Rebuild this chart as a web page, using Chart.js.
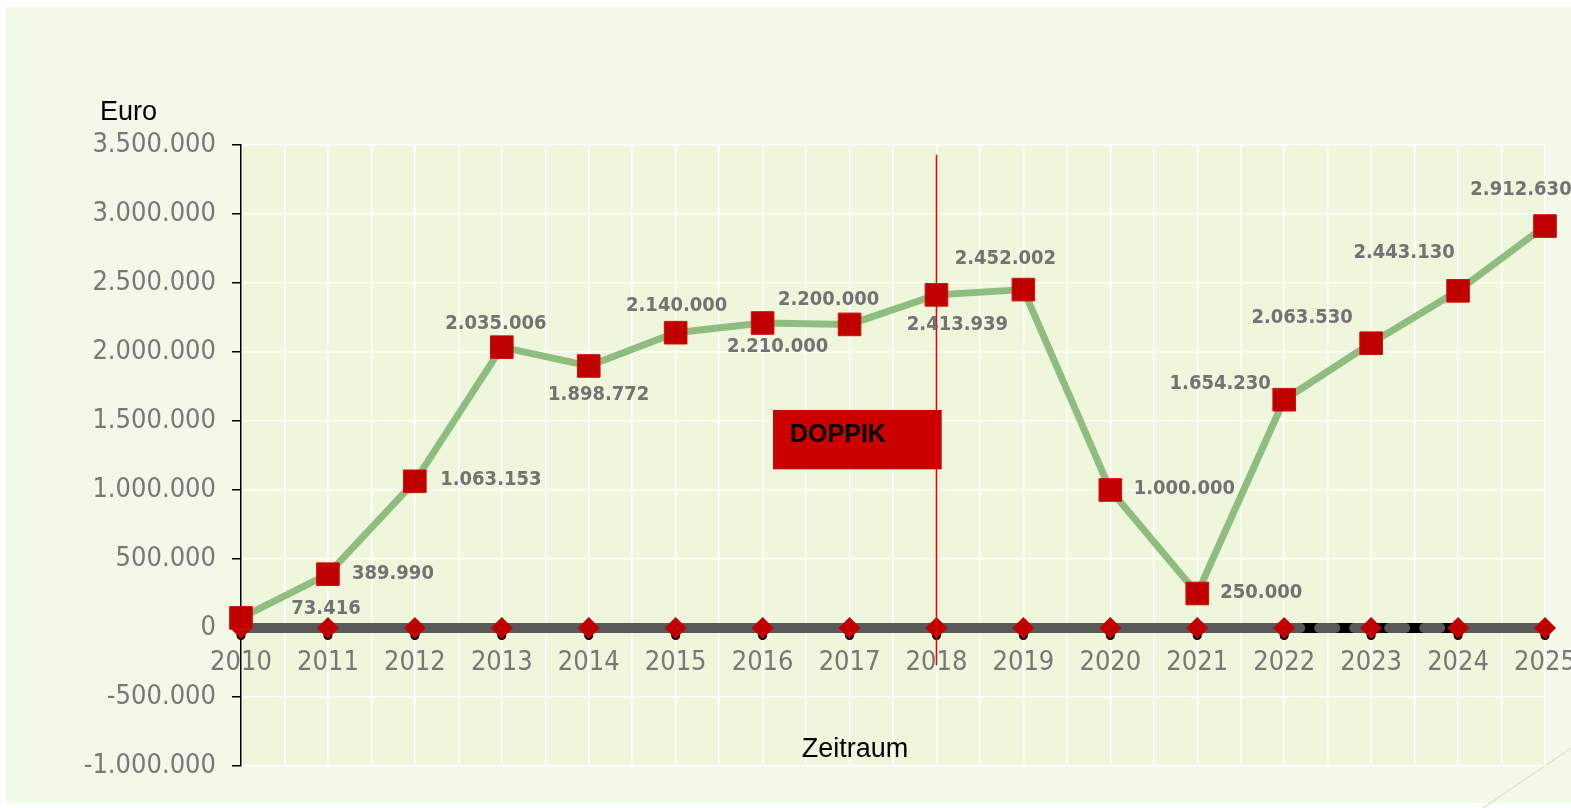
<!DOCTYPE html>
<html><head><meta charset="utf-8">
<script src="https://cdn.jsdelivr.net/npm/chart.js@4.4.1/dist/chart.umd.min.js"></script>
<style>html,body{margin:0;padding:0;background:#fff;overflow:hidden}#c{display:block}</style>
</head><body>
<canvas id="c" width="1571" height="808"></canvas>
<script>
// ---- data ----
const years = [2010, 2011, 2012, 2013, 2014, 2015, 2016, 2017, 2018, 2019, 2020, 2021, 2022, 2023, 2024, 2025];
const budget = [73416, 389990, 1063153, 2035006, 1898772, 2140000, 2210000, 2200000, 2413939, 2452002, 1000000, 250000, 1654230, 2063530, 2443130, 2912630];
const zeroLine = [0, 0, 0, 0, 0, 0, 0, 0, 0, 0, 0, 0, 0, 0, 0, 0];
const dotLine = [-55000, -55000, -55000, -55000, -55000, -55000, -55000, -55000, -55000, -55000, -55000, -55000, -55000, -55000, -55000, -55000];
const markerYear = 2018;
const markerRange = [3430000, -270000];
const yMin = -1000000, yMax = 3500000, yStep = 500000;
const boxLabel = 'DOPPIK';
const boxRange = { x0: 2016.12, x1: 2018.06, y0: 1580000, y1: 1150000 };
const yTitle = 'Euro';
const xTitle = 'Zeitraum';

// label placement (pixel offsets relative to each point)
const labelOffsets = [[85,-9],[65,0],[76,-1],[-6,-23],[10,29],[1,-27],[15,24],[-21,-25],[21,30],[-18,-31],[74,-1],[64,-1],[-64,-16],[-69,-25],[-54,-38],[-24,-36]];

const fmt = v => {
  const s = Math.abs(Math.round(v)).toString().replace(/\B(?=(\d{3})+(?!\d))/g, '.');
  return (v < 0 ? '-' : '') + s;
};
const pts = arr => years.map((y, i) => ({ x: y, y: arr[i] }));

const FONT = "'DejaVu Sans Condensed', 'DejaVu Sans', sans-serif";

const bgPlugin = {
  id: 'bg',
  beforeDraw(chart) {
    const { ctx, chartArea: a } = chart;
    ctx.save();
    ctx.fillStyle = '#ffffff';
    ctx.fillRect(0, 0, chart.width, chart.height);
    ctx.fillStyle = '#f3f9e8';
    ctx.fillRect(6, 7, chart.width - 6, chart.height - 12);
    ctx.fillStyle = '#eef6db';
    ctx.fillRect(a.left, a.top, a.right - a.left, a.bottom - a.top);
    ctx.strokeStyle = '#dfe6d3';
    ctx.lineWidth = 1.5;
    ctx.beginPath();
    ctx.moveTo(1483, 808);
    ctx.lineTo(1571, 748);
    ctx.stroke();
    ctx.restore();
  }
};

const overlayPlugin = {
  id: 'overlay',
  afterDatasetsDraw(chart) {
    const { ctx, scales: { x, y } } = chart;
    ctx.save();
    // DOPPIK box
    const bx0 = x.getPixelForValue(boxRange.x0), bx1 = x.getPixelForValue(boxRange.x1);
    const by0 = y.getPixelForValue(boxRange.y0), by1 = y.getPixelForValue(boxRange.y1);
    ctx.fillStyle = '#cc0000';
    ctx.fillRect(bx0, by0, bx1 - bx0, by1 - by0);
    ctx.fillStyle = '#000000';
    ctx.font = "bold 25px 'Liberation Sans', Arial, sans-serif";
    ctx.textAlign = 'left';
    ctx.textBaseline = 'middle';
    ctx.fillText(boxLabel, bx0 + 17, by0 + 25);
    // data labels
    const meta = chart.getDatasetMeta(0);
    ctx.font = "bold 20px " + FONT;
    ctx.fillStyle = '#737373';
    ctx.textAlign = 'center';
    meta.data.forEach((el, i) => {
      const o = labelOffsets[i];
      ctx.fillText(fmt(budget[i]), el.x + o[0], el.y + o[1]);
    });
    ctx.restore();
  },
  afterDraw(chart) {
    const { ctx } = chart;
    ctx.save();
    ctx.fillStyle = '#000000';
    ctx.font = "27px 'Liberation Sans', Arial, sans-serif";
    ctx.textBaseline = 'middle';
    ctx.textAlign = 'left';
    ctx.fillText(yTitle, 100, 113);
    ctx.textAlign = 'center';
    ctx.fillText(xTitle, 855, 750);
    ctx.restore();
  }
};

new Chart(document.getElementById('c'), {
  type: 'line',
  data: {
    datasets: [
      {
        label: 'Betrag',
        data: pts(budget),
        borderColor: '#8fbd80',
        borderWidth: 7,
        pointStyle: 'rect',
        pointRadius: 16,
        pointBackgroundColor: '#c00000',
        pointBorderColor: '#d01010',
        pointBorderWidth: 1,
        clip: false,
        order: 1
      },
      {
        label: 'Doppik',
        data: [{ x: markerYear, y: markerRange[0] }, { x: markerYear, y: markerRange[1] }],
        borderColor: '#e80000',
        borderWidth: 1.5,
        pointRadius: 0,
        clip: false,
        order: 2
      },
      {
        label: 'Null',
        data: pts(zeroLine),
        borderColor: '#595959',
        borderWidth: 10,
        pointStyle: 'rectRot',
        pointRadius: 11,
        pointBackgroundColor: '#c00000',
        pointBorderColor: '#c00000',
        pointBorderWidth: 0,
        clip: false,
        segment: {
          borderDash: c => (c.p0DataIndex >= 12 && c.p1DataIndex <= 14) ? [16, 19] : undefined,
          borderCapStyle: c => (c.p0DataIndex >= 12 && c.p1DataIndex <= 14) ? 'round' : undefined
        },
        order: 3
      },
      {
        label: 'Punkte',
        data: pts(dotLine),
        showLine: false,
        pointStyle: 'circle',
        pointRadius: 4.5,
        pointBackgroundColor: '#000000',
        pointBorderColor: '#000000',
        pointBorderWidth: 0,
        clip: false,
        order: 4
      },
      {
        label: 'Basis',
        data: pts(zeroLine),
        borderColor: '#000000',
        borderWidth: 10,
        pointRadius: 0,
        clip: false,
        order: 5
      }
    ]
  },
  options: {
    responsive: false,
    animation: false,
    devicePixelRatio: 1,
    events: [],
    layout: { padding: { left: 0, top: 145, right: 26, bottom: 42 } },
    plugins: { legend: { display: false }, tooltip: { enabled: false } },
    scales: {
      x: {
        type: 'linear',
        position: { y: 0 },
        min: 2010, max: 2025,
        afterFit: s => { s.paddingLeft = 0; s.paddingRight = 0; },
        border: { display: false },
        grid: { color: '#ffffff', lineWidth: 1.5, drawTicks: false, tickLength: 0 },
        ticks: {
          stepSize: 0.5, autoSkip: false, maxRotation: 0, padding: 19,
          color: '#787878', font: { family: FONT, size: 27 },
          callback: v => Number.isInteger(v) ? String(v) : ''
        }
      },
      y: {
        min: yMin, max: yMax,
        afterFit: s => { s.width = 241; },
        border: { display: true, color: '#000000', width: 1.5 },
        grid: { color: '#ffffff', lineWidth: 1.5, tickColor: '#000000', tickLength: 9, tickWidth: 1.5 },
        ticks: {
          stepSize: yStep, padding: 16,
          color: '#787878', font: { family: FONT, size: 27 },
          callback: v => fmt(v)
        }
      }
    }
  },
  plugins: [bgPlugin, overlayPlugin]
});
</script>
</body></html>
